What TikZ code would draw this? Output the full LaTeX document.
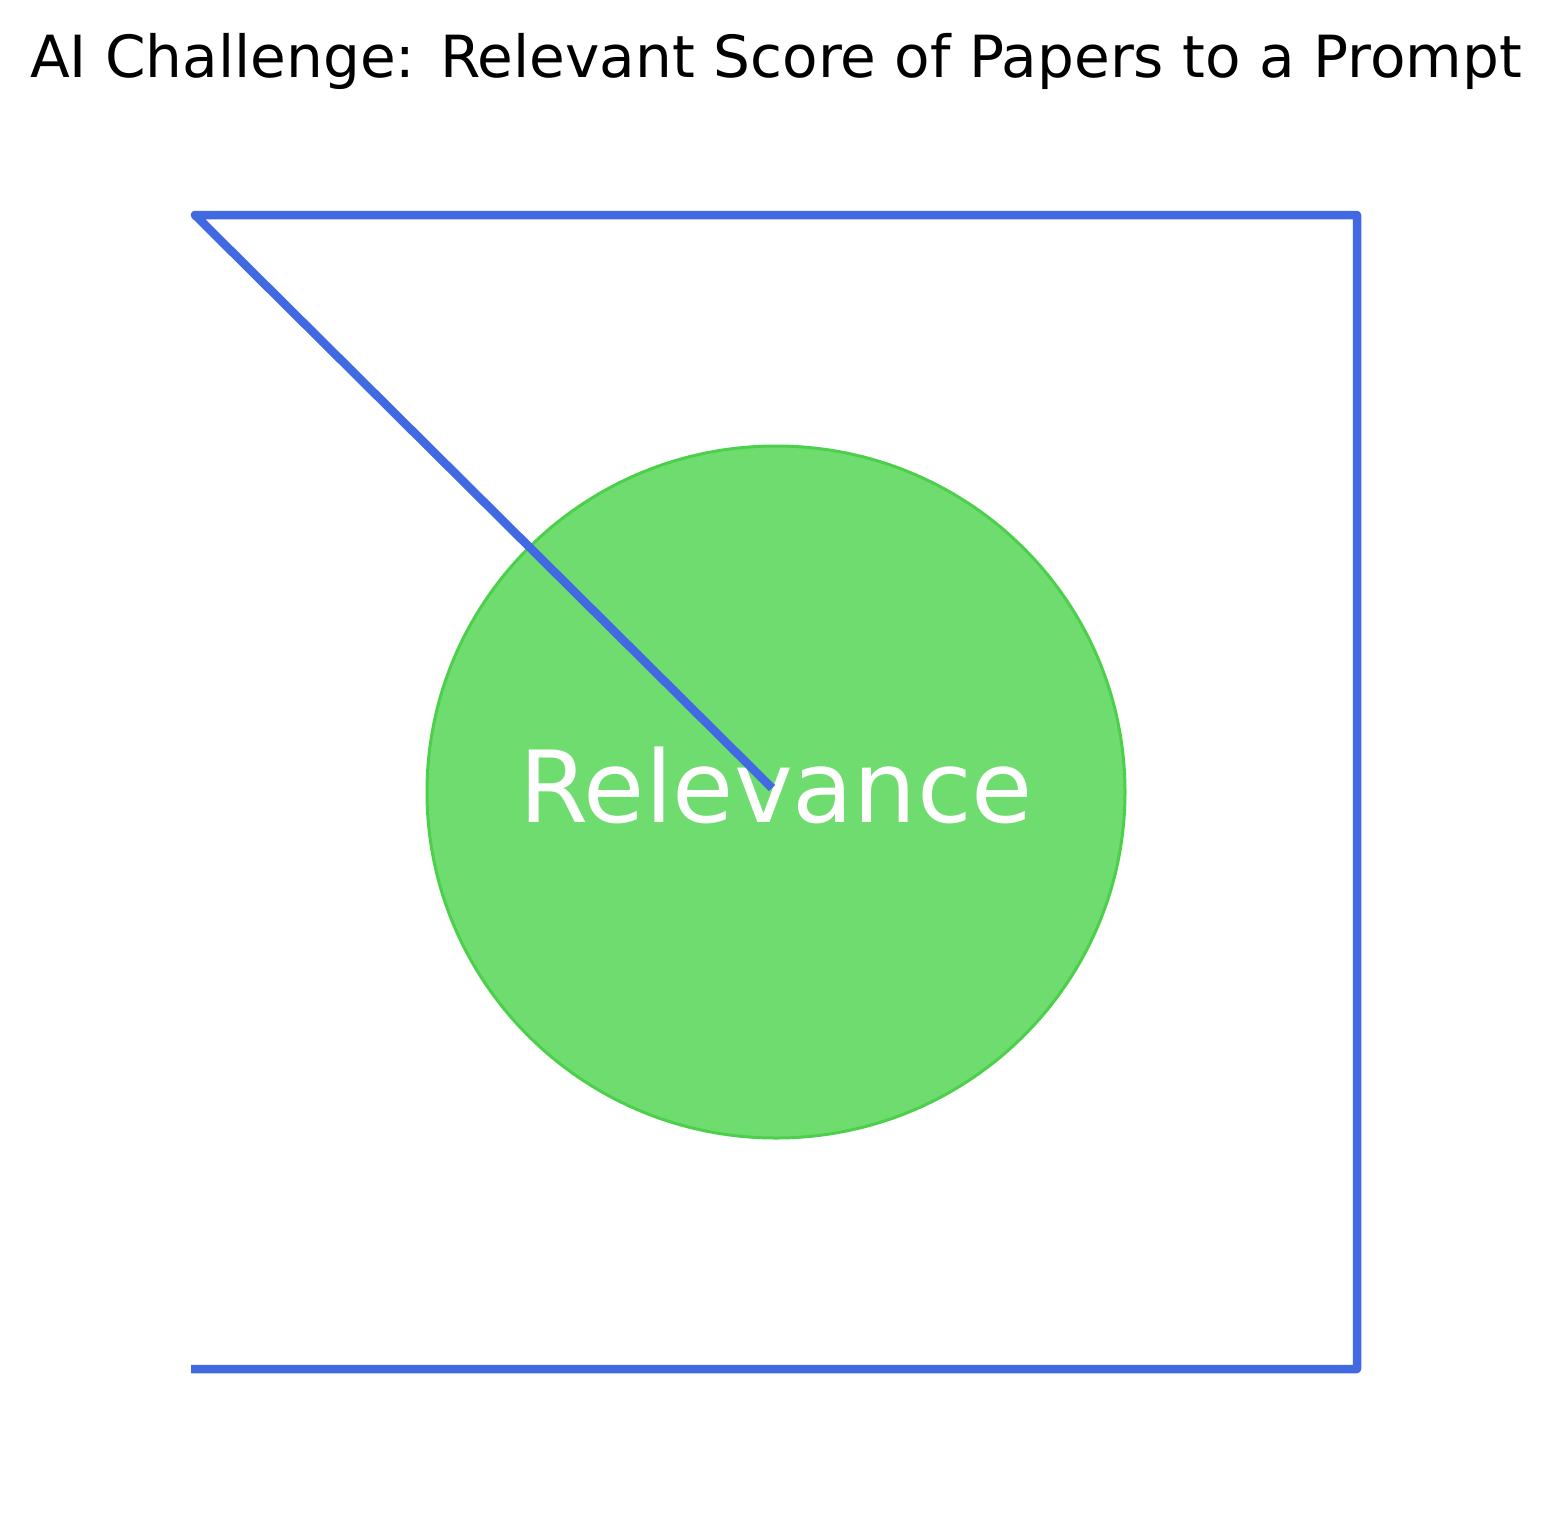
\documentclass[tikz,border=0pt]{standalone}
\usepackage{fontspec}
\setmainfont{DejaVu Sans}
\definecolor{lineblue}{RGB}{65,105,225}
\definecolor{discfill}{RGB}{111,220,111}
\definecolor{discedge}{RGB}{76,208,76}
\tikzset{
  frameline/.style={draw=lineblue, line width=8.5pt, line join=round, line cap=butt},
  disc/.style={ellipse, fill=discfill, draw=discedge, line width=3pt, minimum width=698pt, minimum height=692pt, inner sep=0pt},
  titletext/.style={font=\fontsize{58.1}{70}\selectfont, anchor=base, inner sep=0pt},
  disctext/.style={font=\fontsize{99.5}{118}\selectfont, text=white, anchor=base, inner sep=0pt}
}
\usetikzlibrary{shapes.geometric}
\begin{document}
\begin{tikzpicture}[x=1pt,y=-1pt]
\useasboundingbox (0,0) rectangle (1553,1516);
\node[disc] (circ) at (776,792) {};
\node[disctext] (lbl) at (776,822) {Relevance};
\coordinate (c0) at (772,788);
\coordinate (c1) at (195,215);
\coordinate (c2) at (1357,215);
\coordinate (c3) at (1357,1369);
\coordinate (c4) at (191,1369);
\draw[frameline] (c0) -- (c1) -- (c2) -- (c3) -- (c4);
\node[titletext] (title) at (776,77) {AI Challenge: Relevant Score of Papers to a Prompt};
\end{tikzpicture}
\end{document}
